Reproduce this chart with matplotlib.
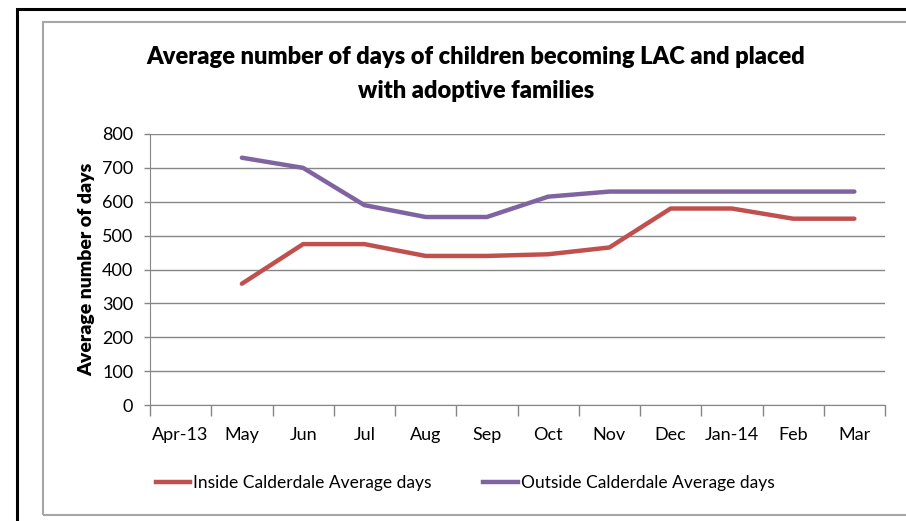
import numpy as np
import matplotlib.pyplot as plt
from matplotlib.patches import Rectangle
from matplotlib.lines import Line2D

plt.rcParams['font.family'] = ['Lato', 'DejaVu Sans']

months = ['Apr-13', 'May', 'Jun', 'Jul', 'Aug', 'Sep', 'Oct', 'Nov', 'Dec', 'Jan-14', 'Feb', 'Mar']
inside = [np.nan, 358, 475, 475, 440, 440, 445, 465, 580, 580, 550, 550]
outside = [np.nan, 730, 700, 590, 555, 555, 615, 630, 630, 630, 630, 630]

W, H = 906, 521
fig = plt.figure(figsize=(W / 100, H / 100), dpi=100)

# outer black frame and inner grey chart frame
fig.patches.append(Rectangle((17 / W, -0.1), 1.2, (H - 9) / H + 0.1, transform=fig.transFigure,
                             fill=False, edgecolor='black', linewidth=2.2))
fig.patches.append(Rectangle((43 / W, (H - 515) / H), 1.2, (515 - 22) / H, transform=fig.transFigure,
                             fill=False, edgecolor='#a6a6a6', linewidth=1.5))

ax = fig.add_axes([150 / W, (H - 405) / H, (885 - 150) / W, (405 - 134) / H])
x = np.arange(len(months))
red = '#c0504d'
purple = '#8064a2'
ax.plot(x, inside, color=red, linewidth=3.2, solid_capstyle='round')
ax.plot(x, outside, color=purple, linewidth=3.2, solid_capstyle='round')

ax.set_xlim(-0.5, len(months) - 0.5)
ax.set_ylim(0, 800)
ax.set_yticks(range(0, 801, 100))
ax.set_xticks(x)
ax.set_xticklabels(months, fontsize=13)
ax.set_xticks(np.arange(-0.5, len(months), 1), minor=True)
ax.tick_params(axis='x', which='major', length=0, pad=16)
ax.tick_params(axis='x', which='minor', length=8, color='#868686', width=1)
ax.tick_params(axis='y', length=4, color='#868686', width=1, labelsize=13, pad=8)
ax.grid(axis='y', color='#868686', linewidth=1)
ax.set_axisbelow(True)
for s in ['top', 'right']:
    ax.spines[s].set_visible(False)
ax.spines['left'].set_color('#868686')
ax.spines['bottom'].set_color('#868686')
ax.set_ylabel('Average number of days', fontsize=14, fontweight='heavy', labelpad=5)

fig.text(476 / W, (H - 57) / H, 'Average number of days of children becoming LAC and placed',
         ha='center', va='center', fontsize=17, fontweight='heavy')
fig.text(476 / W, (H - 91) / H, 'with adoptive families',
         ha='center', va='center', fontsize=17, fontweight='heavy')

handles = [Line2D([], [], color=red, linewidth=3.2), Line2D([], [], color=purple, linewidth=3.2)]
fig.legend(handles, ['Inside Calderdale Average days', 'Outside Calderdale Average days'],
           loc='center', bbox_to_anchor=(465 / W, (H - 483) / H), ncol=2, frameon=False,
           fontsize=12.5, handlelength=2.0, handletextpad=0.15, columnspacing=3.0)

fig.savefig('out.png', dpi=100)
